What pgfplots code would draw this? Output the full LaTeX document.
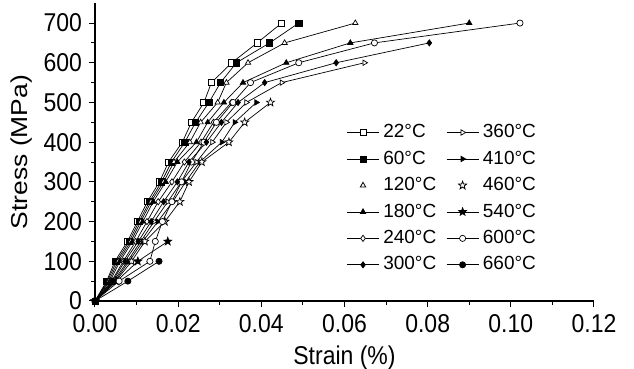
\documentclass[border=0pt]{standalone}
\usepackage{fontspec}
\setmainfont{Liberation Sans}
\usepackage{pgfplots}
\pgfplotsset{compat=1.18}
\pgfdeclareplotmark{fivestar}{%
 \pgfpathmoveto{\pgfpointpolar{90}{1.35\pgfplotmarksize}}%
 \pgfpathlineto{\pgfpointpolar{126}{0.55\pgfplotmarksize}}%
 \pgfpathlineto{\pgfpointpolar{162}{1.35\pgfplotmarksize}}%
 \pgfpathlineto{\pgfpointpolar{198}{0.55\pgfplotmarksize}}%
 \pgfpathlineto{\pgfpointpolar{234}{1.35\pgfplotmarksize}}%
 \pgfpathlineto{\pgfpointpolar{270}{0.55\pgfplotmarksize}}%
 \pgfpathlineto{\pgfpointpolar{306}{1.35\pgfplotmarksize}}%
 \pgfpathlineto{\pgfpointpolar{342}{0.55\pgfplotmarksize}}%
 \pgfpathlineto{\pgfpointpolar{18}{1.35\pgfplotmarksize}}%
 \pgfpathlineto{\pgfpointpolar{54}{0.55\pgfplotmarksize}}%
 \pgfpathclose\pgfusepathqfillstroke}
\begin{document}
\begin{tikzpicture}
\begin{axis}[
 scale only axis, width=249.5pt, height=148.9pt,
 xmin=0, xmax=0.12, ymin=0, ymax=750,
 axis x line*=bottom, axis y line*=left,
 axis line style={line width=0.6pt},
 xtick={0,0.02,0.04,0.06,0.08,0.10,0.12},
 ytick={0,100,200,300,400,500,600,700},
 minor x tick num=1, minor y tick num=1,
 tick align=outside,
 major tick length=3pt, minor tick length=1.8pt,
 tick style={black, line width=0.5pt},
 scaled x ticks=false,
 xticklabel style={/pgf/number format/.cd, fixed, fixed zerofill, precision=2},
 /pgf/number format/assume math mode=true,
 tick label style={font=\fontsize{11.5}{13}\selectfont, yscale=1.12},
 label style={font=\fontsize{11.5}{13}\selectfont},
 xlabel={Strain (\%)}, ylabel={Stress (MPa)},
 xlabel style={yscale=1.12, yshift=1pt},
 ylabel style={xscale=1.15, yshift=-1pt},
 every axis plot/.append style={black, line width=0.35pt, mark size=1.55pt,
   mark options={solid, line width=0.4pt}},
 legend columns=2,
 legend style={draw=none, fill=none, at={(axis cs:0.0590,466)}, anchor=north west,
   font=\fontsize{9.5}{11}\selectfont, row sep=1.1pt,
   /tikz/every even column/.style={column sep=3pt},
   cells={anchor=west}},
 legend image code/.code={\draw[mark repeat=2,mark phase=2] plot coordinates {(0cm,0cm) (0.28cm,0cm) (0.56cm,0cm)};},
]
% 22 C
\addplot[mark=square*, mark options={fill=white}] coordinates {
(0,0) (0.0028,50) (0.0048,100) (0.0078,150) (0.0102,200) (0.0126,250) (0.0155,300) (0.0177,350) (0.0210,400) (0.0232,450) (0.0262,500) (0.0280,550) (0.0329,600) (0.0390,650) (0.0449,700)};
\addlegendentry{22°C}
% 360 C
\addplot[mark=triangle*, mark options={fill=white, rotate=-90}] coordinates {
(0,0) (0.0045,50) (0.0078,100) (0.0110,150) (0.0142,200) (0.0175,250) (0.0208,300) (0.0244,350) (0.0282,400) (0.0316,450) (0.0364,500) (0.0449,550) (0.0648,600)};
\addlegendentry{360°C}
% 60 C
\addplot[mark=square*, mark options={fill=black}] coordinates {
(0,0) (0.0030,50) (0.0052,100) (0.0082,150) (0.0106,200) (0.0131,250) (0.0160,300) (0.0184,350) (0.0216,400) (0.0242,450) (0.0274,500) (0.0302,550) (0.0340,600) (0.0420,650) (0.0490,700)};
\addlegendentry{60°C}
% 410 C
\addplot[mark=triangle*, mark options={fill=black, rotate=-90}] coordinates {
(0,0) (0.0048,50) (0.0082,100) (0.0115,150) (0.0151,200) (0.0187,250) (0.0218,300) (0.0252,350) (0.0305,400) (0.0336,450) (0.0388,500)};
\addlegendentry{410°C}
% 120 C
\addplot[forget plot, mark=triangle*, mark options={fill=white}] coordinates {
(0,0) (0.0033,50) (0.0056,100) (0.0086,150) (0.0110,200) (0.0135,250) (0.0165,300) (0.0190,350) (0.0228,400) (0.0254,450) (0.0295,500) (0.0316,550) (0.0368,600) (0.0456,650) (0.0626,700)};
\addlegendimage{only marks, black, mark=triangle*, mark size=1.55pt, mark options={fill=white, line width=0.4pt}}
\addlegendentry{120°C}
% 460 C
\addplot[forget plot, mark=fivestar, mark options={fill=white}] coordinates {
(0,0) (0.0050,50) (0.0088,100) (0.0120,150) (0.0168,200) (0.0204,250) (0.0226,300) (0.0257,350) (0.0322,400) (0.0360,450) (0.0422,500)};
\addlegendimage{only marks, black, mark=fivestar, mark size=1.55pt, mark options={fill=white, line width=0.4pt}}
\addlegendentry{460°C}
% 180 C
\addplot[mark=triangle*, mark options={fill=black}] coordinates {
(0,0) (0.0036,50) (0.0060,100) (0.0090,150) (0.0115,200) (0.0140,250) (0.0170,300) (0.0198,350) (0.0244,400) (0.0271,450) (0.0310,500) (0.0356,550) (0.0460,600) (0.0614,650) (0.0900,700)};
\addlegendentry{180°C}
% 540 C
\addplot[mark=fivestar, mark options={fill=black}] coordinates {
(0,0) (0.0052,50) (0.0103,100) (0.0175,150)};
\addlegendentry{540°C}
% 240 C
\addplot[mark=diamond*, mark options={fill=white}] coordinates {
(0,0) (0.0040,50) (0.0068,100) (0.0098,150) (0.0125,200) (0.0152,250) (0.0185,300) (0.0215,350) (0.0255,400) (0.0285,450) (0.0328,500)};
\addlegendentry{240°C}
% 600 C
\addplot[mark=*, mark options={fill=white}] coordinates {
(0,0) (0.0058,50) (0.0132,100) (0.0145,150) (0.0162,200) (0.0185,250) (0.0208,300) (0.0232,350) (0.0262,400) (0.0292,450) (0.0332,500) (0.0374,550) (0.0490,600) (0.0672,650) (0.1022,700)};
\addlegendentry{600°C}
% 300 C
\addplot[mark=diamond*, mark options={fill=black}] coordinates {
(0,0) (0.0042,50) (0.0072,100) (0.0104,150) (0.0135,200) (0.0165,250) (0.0198,300) (0.0226,350) (0.0268,400) (0.0304,450) (0.0344,500) (0.0408,550) (0.0580,600) (0.0804,650)};
\addlegendentry{300°C}
% 660 C
\addplot[mark=*, mark options={fill=black}] coordinates {
(0,0) (0.0079,50) (0.0154,100)};
\addlegendentry{660°C}
\end{axis}
\pgfresetboundingbox
\path ([shift={(-47.5pt,-34pt)}]current axis.south west) rectangle ([shift={(269.5pt,150.5pt)}]current axis.south west);
\end{tikzpicture}
\end{document}
